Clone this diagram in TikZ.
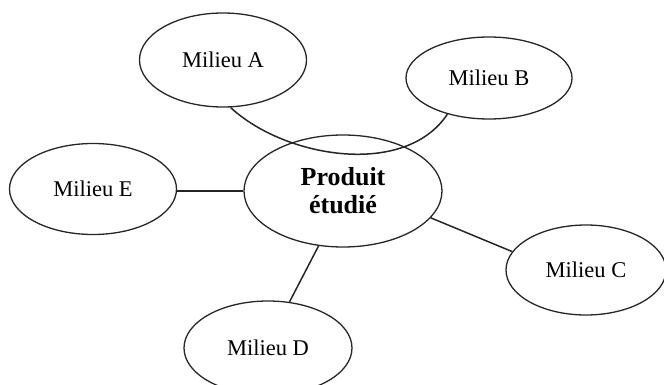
\documentclass[tikz,border=0pt]{standalone}
\usepackage{fontspec}
\setmainfont{Liberation Serif}
\usetikzlibrary{shapes.geometric}
\begin{document}
\begin{tikzpicture}[x=1pt,y=-1pt,
  milieu/.style={draw=black!85,line width=1.3pt,ellipse,inner sep=0pt,font=\fontsize{22.5}{26}\selectfont},
  link/.style={draw=black!85,line width=1.5pt}]
\useasboundingbox (0,0) rectangle (664,385);
\node[milieu,minimum width=167pt,minimum height=94pt] (A) at (223,60) {Milieu A};
\node[milieu,minimum width=166pt,minimum height=82pt] (B) at (489,78) {Milieu B};
\node[milieu,minimum width=167pt,minimum height=91pt] (E) at (93,189) {Milieu E};
\node[milieu,minimum width=160pt,minimum height=90pt] (C) at (586,270) {Milieu C};
\node[milieu,minimum width=168pt,minimum height=94pt] (D) at (268,348) {Milieu D};
\node[milieu,minimum width=198pt,minimum height=112pt,align=center,font=\fontsize{26}{28}\selectfont\bfseries] (P) at (343,191) {Produit\\étudié};
\draw[link] (P.west) -- (P.west -| E.east);
\draw[link] (P.-17) -- (C.166);
\draw[link] (P.-114) -- (D.65);
\draw[link] (A.-81) .. controls (285,158) and (405,178) .. (B.-139);
\end{tikzpicture}
\end{document}
